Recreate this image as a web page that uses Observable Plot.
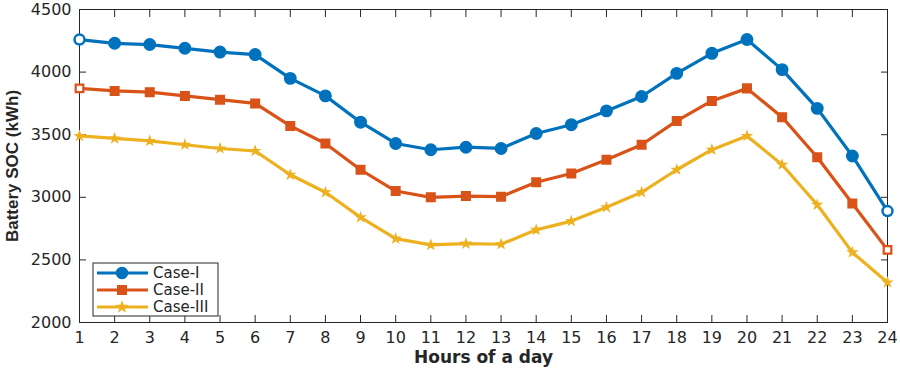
<!DOCTYPE html>
<html><head><meta charset="utf-8">
<script src="https://cdn.jsdelivr.net/npm/d3@7"></script>
<script src="https://cdn.jsdelivr.net/npm/@observablehq/plot@0.6"></script>
<style>
body{margin:0;background:#fff}
#chart{position:relative;width:900px;height:368px}
</style>
</head><body><div id="chart"></div>
<script>
const hours = [1,2,3,4,5,6,7,8,9,10,11,12,13,14,15,16,17,18,19,20,21,22,23,24];
const caseI = [4260,4230,4220,4190,4160,4140,3950,3810,3600,3430,3380,3400,3390,3510,3580,3690,3805,3990,4150,4260,4020,3710,3330,2890];
const caseII = [3870,3850,3840,3810,3780,3750,3570,3430,3220,3050,3000,3010,3005,3120,3190,3300,3420,3610,3770,3870,3640,3320,2950,2580];
const caseIII = [3490,3470,3450,3420,3390,3370,3180,3040,2840,2670,2620,2630,2625,2740,2810,2920,3040,3220,3380,3490,3260,2940,2560,2320];
const seriesNames = ["Case-I","Case-II","Case-III"];
const seriesColors = ["#0072BD","#D95319","#EDB120"];
const yTicks = [2000,2500,3000,3500,4000,4500];
const xLabel = "Hours of a day";
const yLabel = "Battery SOC (kWh)";

const seriesValues = [caseI, caseII, caseIII];
const data = seriesNames.flatMap((s, i) => hours.map((h, j) => ({series: s, hour: h, value: seriesValues[i][j]})));
const first = hours[0], last = hours[hours.length - 1];
const isEdge = d => d.hour === first || d.hour === last;
const ofSeries = k => data.filter(d => d.series === seriesNames[k]);

const axisColor = "#262626";
const plot = Plot.plot({
  width: 900, height: 368,
  marginLeft: 79, marginRight: 13, marginTop: 9, marginBottom: 46,
  style: {fontFamily: "DejaVu Sans", fontSize: "16px", color: axisColor, background: "white"},
  x: {domain: [first, last], ticks: hours},
  y: {domain: [2000, 4500], ticks: yTicks},
  color: {domain: seriesNames, range: seriesColors},
  marks: [
    Plot.frame({stroke: axisColor, strokeWidth: 1}),
    Plot.axisX(hours, {anchor: "bottom", tickSize: -7, text: null, color: axisColor, label: null}),
    Plot.axisX(hours, {anchor: "top", tickSize: -7, text: null, color: axisColor, label: null}),
    Plot.axisY(yTicks, {anchor: "left", tickSize: -7, text: null, color: axisColor, label: null}),
    Plot.axisY(yTicks, {anchor: "right", tickSize: -7, text: null, color: axisColor, label: null}),
    Plot.axisX(hours, {anchor: "bottom", tickSize: 0, tickPadding: 9, fontSize: 16, fill: axisColor, label: null, tickFormat: d3.format("d")}),
    Plot.axisY(yTicks, {anchor: "left", tickSize: 0, tickPadding: 8, fontSize: 16, fill: axisColor, label: null, tickFormat: d3.format("d")}),
    Plot.text([xLabel], {frameAnchor: "bottom", textAnchor: "middle", lineAnchor: "middle", dy: 35, text: d => d, fontWeight: "bold", fontSize: 17, fill: axisColor}),
    Plot.text([yLabel], {frameAnchor: "left", textAnchor: "middle", lineAnchor: "middle", dx: -67, rotate: -90, text: d => d, fontWeight: "bold", fontSize: 17, fontFamily: "Liberation Sans", fill: axisColor}),
    Plot.line(data, {x: "hour", y: "value", z: "series", stroke: "series", strokeWidth: 3.2}),
    Plot.dot(ofSeries(0).filter(d => !isEdge(d)), {x: "hour", y: "value", r: 5.7, symbol: "circle", fill: "series", stroke: "series", strokeWidth: 1.5}),
    Plot.dot(ofSeries(0).filter(isEdge), {x: "hour", y: "value", r: 5, symbol: "circle", fill: "white", stroke: "series", strokeWidth: 2.5}),
    Plot.dot(ofSeries(1).filter(d => !isEdge(d)), {x: "hour", y: "value", r: 4.8, symbol: "square", fill: "series", stroke: "series", strokeWidth: 1.5}),
    Plot.dot(ofSeries(1).filter(isEdge), {x: "hour", y: "value", r: 4.3, symbol: "square", fill: "white", stroke: "series", strokeWidth: 2.2}),
    Plot.dot(ofSeries(2), {x: "hour", y: "value", r: 2.8, symbol: "star", fill: "series", stroke: "series", strokeWidth: 1.2})
  ]
});
document.getElementById("chart").appendChild(plot);

// Legend drawn inside the plot SVG, lower-left corner of the axes
const svg = d3.select(plot);
const lg = svg.append("g").attr("transform", "translate(93,263)").attr("text-anchor", "start");
lg.append("rect").attr("width", 125).attr("height", 53).attr("fill", "white").attr("stroke", axisColor).attr("stroke-width", 1);
const symbols = [d3.symbolCircle, d3.symbolSquare, d3.symbolStar];
const symSizes = [Math.PI * 5.5 * 5.5, Math.PI * 4.8 * 4.8, Math.PI * 2.8 * 2.8];
seriesNames.forEach((name, i) => {
  const cy = 10 + i * 17;
  const row = lg.append("g").attr("transform", `translate(0,${cy})`);
  row.append("line").attr("x1", 4).attr("x2", 55).attr("stroke", seriesColors[i]).attr("stroke-width", 3.2);
  row.append("path").attr("transform", "translate(29,0)").attr("d", d3.symbol(symbols[i], symSizes[i])()).attr("fill", seriesColors[i]).attr("stroke", seriesColors[i]).attr("stroke-width", 1.5);
  row.append("text").attr("x", 60).attr("dy", "0.35em").attr("text-anchor", "start").attr("font-size", 15).attr("font-family", "DejaVu Sans").attr("fill", axisColor).text(name);
});
</script>
</body></html>
